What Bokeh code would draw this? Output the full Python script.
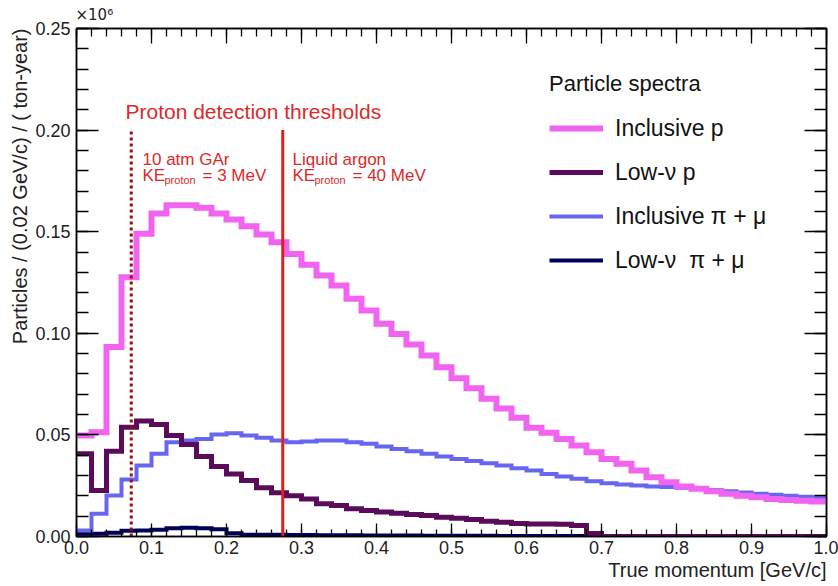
import numpy as np
from bokeh.plotting import figure
from bokeh.models import (Range1d, LinearAxis, SingleIntervalTicker, NumeralTickFormatter,
                          Title, Label, Legend, LegendItem, CustomLabelingPolicy)
from bokeh.embed import file_html
from bokeh.resources import INLINE

# ---------------- data (units of 10^6 particles / 0.02 GeV/c / ton-year) ----------------
bin_width = 0.02
n_bins = 50
edges = np.round(np.arange(n_bins + 1) * bin_width, 4)

inclusive_p = [0.0497, 0.0513, 0.0932, 0.1276, 0.1490, 0.1590, 0.1630, 0.1630, 0.1618, 0.1590,
               0.1560, 0.1527, 0.1486, 0.1448, 0.1390, 0.1337, 0.1284, 0.1235, 0.1170, 0.1112,
               0.1047, 0.0997, 0.0945, 0.0891, 0.0833, 0.0779, 0.0730, 0.0678, 0.0630, 0.0585,
               0.0535, 0.0510, 0.0480, 0.0448, 0.0415, 0.0382, 0.0358, 0.0325, 0.0292, 0.0267,
               0.0246, 0.0235, 0.0223, 0.0210, 0.0200, 0.0193, 0.0185, 0.0180, 0.0176, 0.0172]

low_nu_p = [0.0407, 0.0226, 0.0420, 0.0538, 0.0568, 0.0551, 0.0497, 0.0453, 0.0394, 0.0344,
            0.0308, 0.0276, 0.0240, 0.0215, 0.0200, 0.0185, 0.0161, 0.0153, 0.0136, 0.0128,
            0.0120, 0.0115, 0.0108, 0.0103, 0.0095, 0.0090, 0.0084, 0.0075, 0.0070, 0.0064,
            0.0062, 0.0062, 0.0060, 0.0054, 0.0015, 0.0, 0.0, 0.0, 0.0, 0.0,
            0.0, 0.0, 0.0, 0.0, 0.0, 0.0, 0.0, 0.0, 0.0, 0.0]

inclusive_pimu = [0.0030, 0.0112, 0.0202, 0.0280, 0.0350, 0.0407, 0.0464, 0.0472, 0.0480, 0.0502,
                  0.0508, 0.0497, 0.0486, 0.0472, 0.0464, 0.0468, 0.0472, 0.0472, 0.0464, 0.0456,
                  0.0443, 0.0431, 0.0420, 0.0407, 0.0394, 0.0382, 0.0371, 0.0361, 0.0350, 0.0336,
                  0.0325, 0.0308, 0.0295, 0.0284, 0.0272, 0.0262, 0.0256, 0.0251, 0.0246, 0.0243,
                  0.0240, 0.0235, 0.0229, 0.0223, 0.0217, 0.0210, 0.0205, 0.0200, 0.0196, 0.0193]

low_nu_pimu = [0.0013, 0.0013, 0.0018, 0.0028, 0.0030, 0.0033, 0.0041, 0.0043, 0.0041, 0.0036,
               0.0016, 0.0009, 0.0008, 0.0008, 0.0007, 0.0007, 0.0006, 0.0006, 0.0006, 0.0005,
               0.0005, 0.0005, 0.0005, 0.0004, 0.0004, 0.0004, 0.0004, 0.0004, 0.0003, 0.0003,
               0.0003, 0.0003, 0.0003, 0.0003, 0.0003, 0.0003, 0.0002, 0.0002, 0.0002, 0.0002,
               0.0002, 0.0002, 0.0002, 0.0002, 0.0002, 0.0002, 0.0002, 0.0002, 0.0002, 0.0002]

series_labels = ["Inclusive p", "Low-\u03bd p", "Inclusive \u03c0 + \u03bc", "Low-\u03bd  \u03c0 + \u03bc"]
series_colors = ["#f064f0", "#5a0c5a", "#6666f0", "#000058"]
series_widths = [6, 5, 4, 4]
draw_order = [3, 2, 1, 0]

# proton detection thresholds (momentum, GeV/c)
thresholds = [0.073, 0.275]
threshold_top = 0.20

FONT = "Liberation Sans"
RED = "#dc2a2a"
TXT = "#222222"

p = figure(width=838, height=586, x_range=Range1d(0, 1), y_range=Range1d(0, 0.25),
           output_backend="svg", toolbar_location=None,
           min_border_left=76, min_border_right=12, min_border_top=28, min_border_bottom=50,
           background_fill_color="white", border_fill_color="white",
           outline_line_color="black", outline_line_width=1.5)
p.grid.visible = False

xa = p.xaxis[0]
xa.ticker = SingleIntervalTicker(interval=0.1, num_minor_ticks=5)
xa.formatter = NumeralTickFormatter(format="0.0")
ya = p.yaxis[0]
ya.ticker = SingleIntervalTicker(interval=0.05, num_minor_ticks=5)
ya.formatter = NumeralTickFormatter(format="0.00")

for ax, maj, mnr in [(xa, 13, 7), (ya, 22, 12)]:
    ax.major_tick_in = maj
    ax.major_tick_out = 0
    ax.minor_tick_in = mnr
    ax.minor_tick_out = 0
    ax.axis_line_width = 1.5
    ax.major_tick_line_width = 1.3
    ax.minor_tick_line_width = 1.3
    ax.major_label_text_font = FONT
    ax.major_label_text_font_size = "18px"
    ax.major_label_text_color = TXT
xa.major_label_standoff = 4
ya.major_label_standoff = 6

no_labels = CustomLabelingPolicy(code="return []")
top_ax = LinearAxis(ticker=SingleIntervalTicker(interval=0.1, num_minor_ticks=5),
                    major_tick_in=15, major_tick_out=0, minor_tick_in=8, minor_tick_out=0,
                    major_label_policy=no_labels, major_label_standoff=0,
                    major_label_text_font_size="1px",
                    axis_line_width=1.5, major_tick_line_width=1.3, minor_tick_line_width=1.3)
right_ax = LinearAxis(ticker=SingleIntervalTicker(interval=0.05, num_minor_ticks=5),
                      major_tick_in=22, major_tick_out=0, minor_tick_in=12, minor_tick_out=0,
                      major_label_policy=no_labels, major_label_standoff=0,
                      major_label_text_font_size="1px",
                      axis_line_width=1.5, major_tick_line_width=1.3, minor_tick_line_width=1.3)
p.add_layout(top_ax, "above")
p.add_layout(right_ax, "right")

mult = Title(text="\u00d710\u2076", align="left", text_font="DejaVu Sans", text_font_size="15px",
             text_font_style="normal", text_color=TXT, standoff=1, offset=-1)
p.add_layout(mult, "above")

ytitle = Title(text="Particles / (0.02 GeV/c) / ( ton-year)", align="right",
               text_font=FONT, text_font_size="20px", text_font_style="normal",
               text_color=TXT, standoff=4)
p.add_layout(ytitle, "left")
xtitle = Title(text="True momentum [GeV/c]", align="right",
               text_font=FONT, text_font_size="20px", text_font_style="normal",
               text_color=TXT, standoff=0)
p.add_layout(xtitle, "below")

# histograms
all_series = [inclusive_p, low_nu_p, inclusive_pimu, low_nu_pimu]
renderers = [None] * 4
for i in draw_order:
    vals = all_series[i]
    yv = list(vals) + [vals[-1]]
    renderers[i] = p.step(x=edges, y=yv, mode="after", line_color=series_colors[i],
                          line_width=series_widths[i], line_join="miter", line_cap="butt")

# threshold lines
p.line([thresholds[0], thresholds[0]], [0, threshold_top], line_color="#9a0c0c",
       line_width=3, line_dash="3 3")
p.line([thresholds[1], thresholds[1]], [0, threshold_top], line_color="#e01e1e",
       line_width=3)

legend = Legend(items=[LegendItem(label=l, renderers=[r]) for l, r in zip(series_labels, renderers)],
                title="Particle spectra", location=(473, 257),
                title_text_font=FONT, title_text_font_size="22px", title_text_font_style="normal",
                title_text_color="#111111", title_standoff=12,
                label_text_font=FONT, label_text_font_size="23px", label_text_color="#111111",
                label_standoff=12, glyph_width=54, glyph_height=38, label_height=38,
                spacing=6, padding=0, margin=0, border_line_alpha=0, background_fill_alpha=0)
p.add_layout(legend)

# annotation texts
def lab(x, y, text, size, color=RED, xo=0, yo=0):
    p.add_layout(Label(x=x, y=y, text=text, x_offset=xo, y_offset=yo, text_font=FONT,
                       text_font_size=size, text_color=color, text_baseline="alphabetic",
                       text_align="left"))

lab(0.0653, 0.2092, "Proton detection thresholds", "21px")
lab(0.088, 0.1855, "10 atm GAr", "17px")
lab(0.088, 0.1776, "KE", "17px")
lab(0.088, 0.1776, "proton", "11px", xo=22, yo=-4)
lab(0.088, 0.1776, "= 3 MeV", "17px", xo=60)
lab(0.288, 0.1855, "Liquid argon", "17px")
lab(0.288, 0.1776, "KE", "17px")
lab(0.288, 0.1776, "proton", "11px", xo=22, yo=-4)
lab(0.288, 0.1776, "= 40 MeV", "17px", xo=60)

open("out.html", "w").write(file_html(p, INLINE))
